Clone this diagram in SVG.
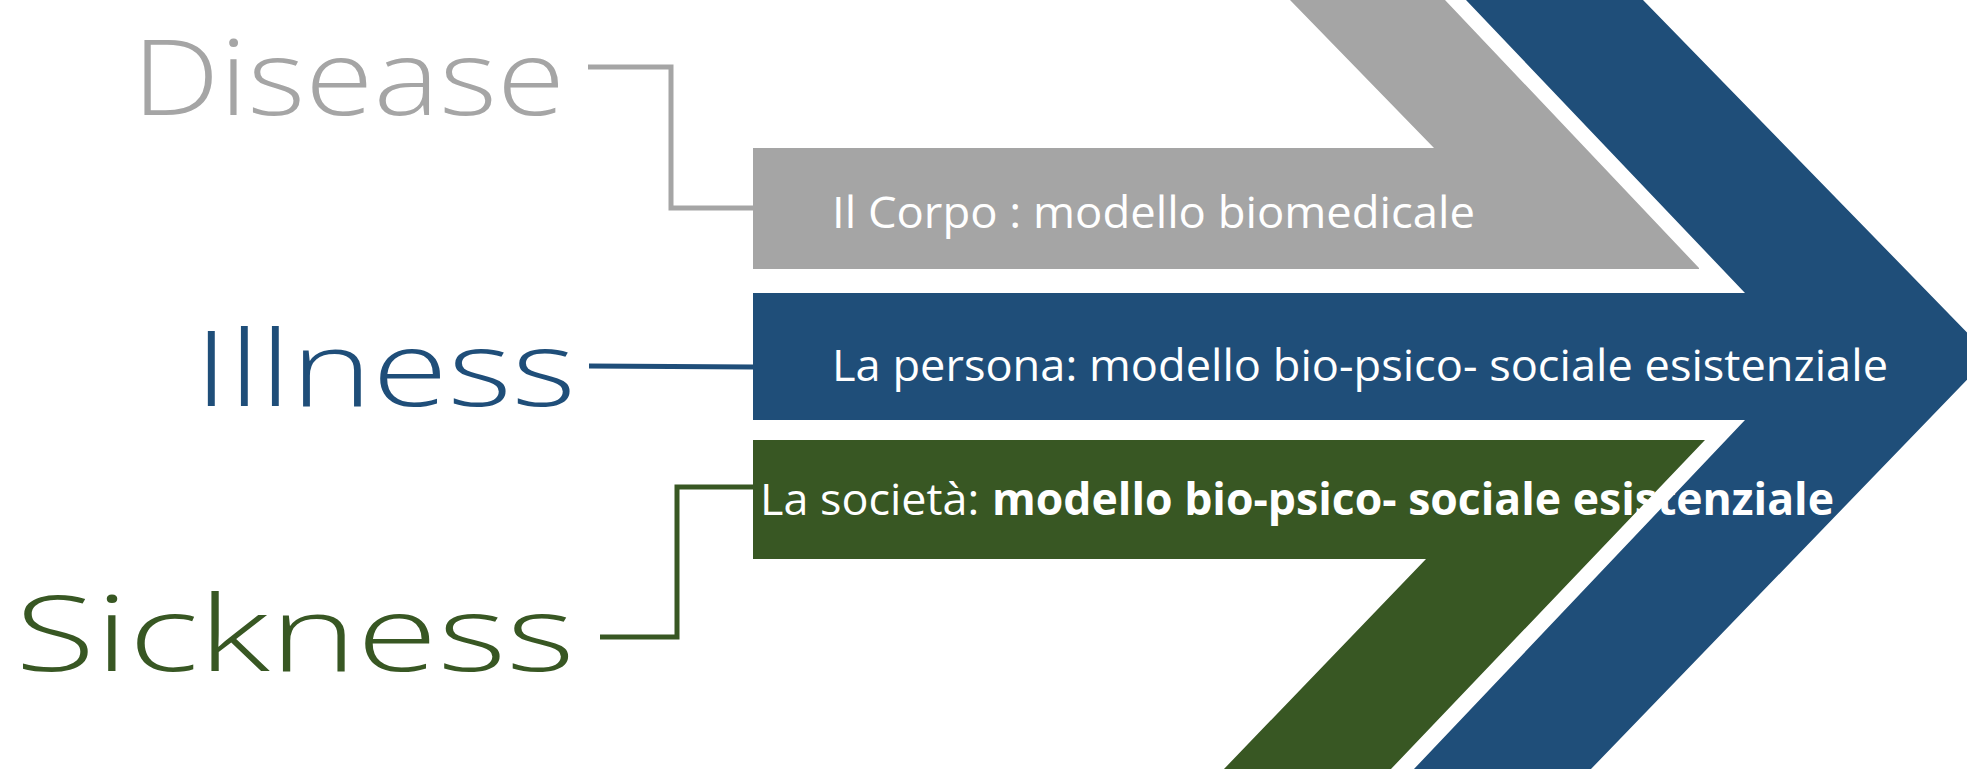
<svg xmlns="http://www.w3.org/2000/svg" width="1967" height="769" viewBox="0 0 1967 769">
<style>
.hand{font-family:"Open Sans","Lato","DejaVu Sans",sans-serif;font-size:106px;font-weight:300;}
.lbl{font-family:"Open Sans","Liberation Sans",sans-serif;font-size:44px;fill:#ffffff;}
.b{font-weight:bold;}
.conn{fill:none;stroke-width:5;}
</style>
<rect width="1967" height="769" fill="#ffffff"/>
<g id="node-corpo">
<polygon points="753,148 1434,148 1290,0 1445,0 1699,268 1699,269 753,269" fill="#A5A5A5"/>
<text class="lbl" x="832" y="228" textLength="643" lengthAdjust="spacingAndGlyphs">Il Corpo : modello biomedicale</text>
</g>
<g id="node-persona">
<polygon points="1466,0 1643,0 1990,356 1591,769 1414,769 1745,420 753,420 753,293 1745,293" fill="#1F4E79"/>
<text class="lbl" x="832" y="381" textLength="1056" lengthAdjust="spacingAndGlyphs">La persona: modello bio-psico- sociale esistenziale</text>
</g>
<g id="node-societa">
<polygon points="753,440 1705,440 1391,769 1224,769 1426,559 753,559" fill="#385723"/>
</g>
<g id="label-disease">
<text class="hand" x="132" y="115" textLength="433" lengthAdjust="spacingAndGlyphs" fill="#A5A5A5">Disease</text>
</g>
<g id="label-illness">
<text class="hand" x="194" y="406" textLength="382" lengthAdjust="spacingAndGlyphs" fill="#1F4E79">Illness</text>
</g>
<g id="label-sickness">
<text class="hand" x="15" y="671" textLength="560" lengthAdjust="spacingAndGlyphs" fill="#385723">Sickness</text>
</g>
<g id="connectors">
<polyline class="conn" stroke="#A5A5A5" points="588,67 671,67 671,208 753,208"/>
<polyline class="conn" stroke="#1F4E79" points="589,366 753,367"/>
<polyline class="conn" stroke="#385723" points="600,637 677,637 677,487 753,487"/>
</g>
<g id="text-societa">
<text class="lbl" x="760" y="515"><tspan textLength="231" lengthAdjust="spacingAndGlyphs">La società: </tspan><tspan class="b" x="992" textLength="842" lengthAdjust="spacingAndGlyphs">modello bio-psico- sociale esistenziale</tspan></text>
</g>
</svg>
